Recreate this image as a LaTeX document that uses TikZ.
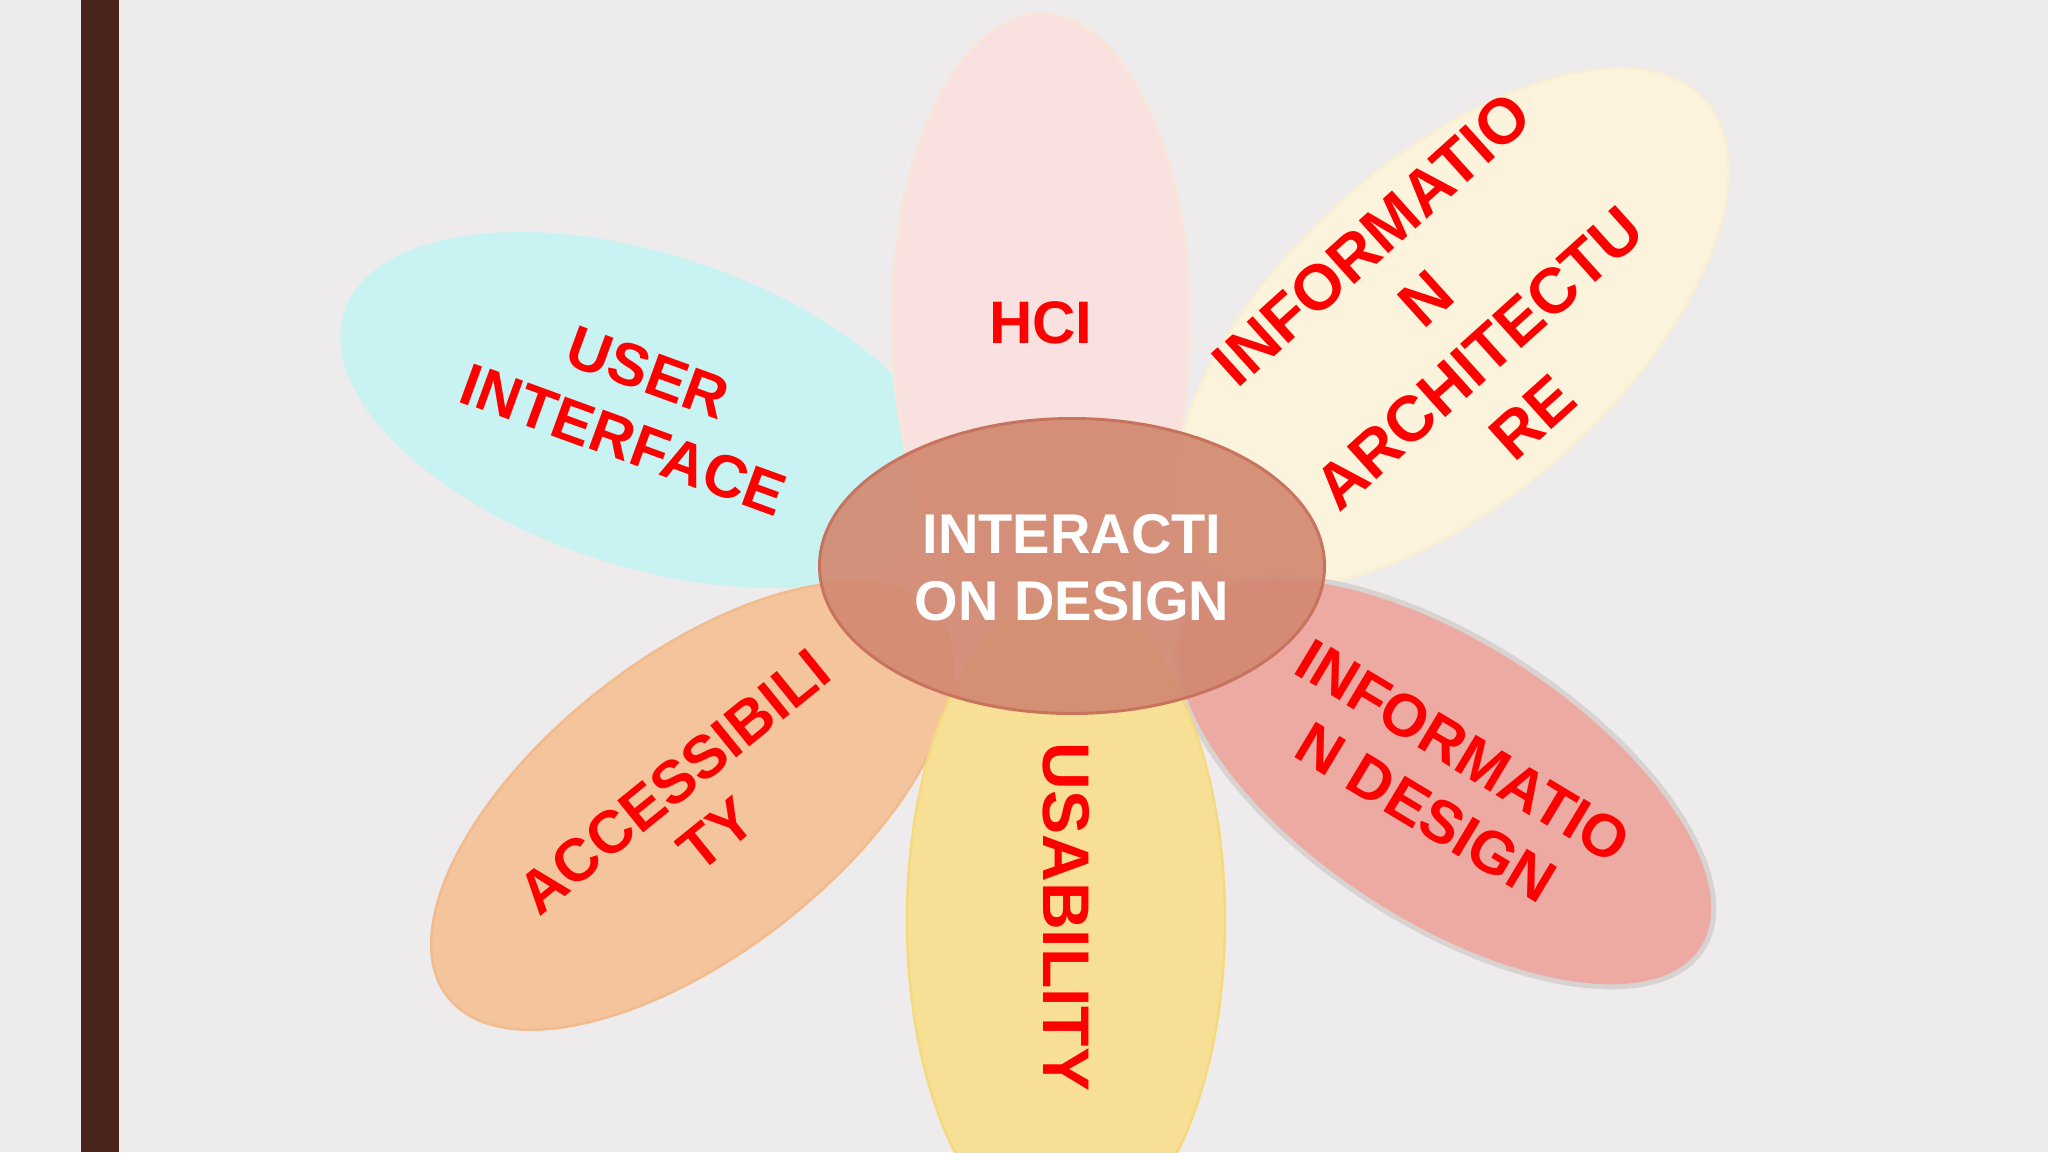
\documentclass[tikz,border=0pt]{standalone}
\usepackage{fontspec}
\setmainfont{Liberation Sans}
\usetikzlibrary{shapes.geometric}
\definecolor{bgc}{HTML}{EDEBEB}
\definecolor{barc}{HTML}{4A241B}
\definecolor{hcic}{HTML}{F8E1DF}
\definecolor{hcib}{HTML}{FAE6D8}
\definecolor{archc}{HTML}{FBF3DC}
\definecolor{archb}{HTML}{FAEFD2}
\definecolor{uic}{HTML}{C9F2F2}
\definecolor{accc}{HTML}{F4C59C}
\definecolor{accb}{HTML}{F1BB8D}
\definecolor{usac}{HTML}{F7E096}
\definecolor{usab}{HTML}{F5D97C}
\definecolor{idc}{HTML}{ECAAA2}
\definecolor{idb}{HTML}{D8D2D0}
\definecolor{cenc}{HTML}{D2876F}
\definecolor{cenb}{HTML}{C8735E}
\definecolor{redt}{HTML}{FF0000}
\begin{document}
\begin{tikzpicture}[x=1pt,y=-1pt,
  petal/.style={shape=ellipse, inner sep=0pt, outer sep=0pt, line width=2.5pt},
  lbl/.style 2 args={text=redt, font=\bfseries\fontsize{#1}{#2}\selectfont, align=center, inner sep=0pt},
  ctr/.style={text=white, font=\bfseries\fontsize{56}{67}\selectfont, align=center, inner sep=0pt}]
\useasboundingbox (0,0) rectangle (2048,1152);
\fill[bgc] (0,0) rectangle (2048,1152);
\fill[barc] (81,0) rectangle (119,1152);
% petals
\node[petal, fill=uic, draw=uic, minimum width=630pt, minimum height=310pt, rotate=-18] (ui) at (645,410) {};
\node[petal, fill=hcic, draw=hcib, minimum width=298pt, minimum height=616pt] (hci) at (1041,322) {};
\node[petal, fill=archc, draw=archb, minimum width=680pt, minimum height=336pt, rotate=42] (arch) at (1452,328) {};
\node[petal, fill=idc, draw=idb, line width=5pt, minimum width=614pt, minimum height=282pt, rotate=-33] (idesign) at (1445,782) {};
\node[petal, fill=accc, draw=accb, minimum width=620pt, minimum height=296pt, rotate=38] (acc) at (692,806) {};
\node[petal, fill=usac, draw=usab, minimum width=318pt, minimum height=650pt] (usa) at (1066,920) {};
% centre
\node[petal, fill=cenc, fill opacity=0.9, draw=cenb, line width=3pt, minimum width=505pt, minimum height=295pt] (center) at (1072,566) {};
% labels
\node[lbl={60}{72}, rotate=-20] (uit) at (636,406) {USER\\INTERFACE};
\node[lbl={60}{72}] (hcit) at (1041,323) {HCI};
\node[lbl={64}{80}, rotate=42] (archt) at (arch.center) {INFORMATIO\\N\\ARCHITECTU\\RE};
\node[lbl={60}{72}, rotate=-31] (idt) at (idesign.center) {INFORMATIO\\N DESIGN};
\node[lbl={60}{68}, rotate=39] (acct) at (695,808) {ACCESSIBILI\\TY};
\node[lbl={66}{74}, rotate=-90] (usat) at (1066,917) {USABILITY};
\node[ctr] (ctext) at (1072,568) {INTERACTI\\ON DESIGN};
\end{tikzpicture}
\end{document}
